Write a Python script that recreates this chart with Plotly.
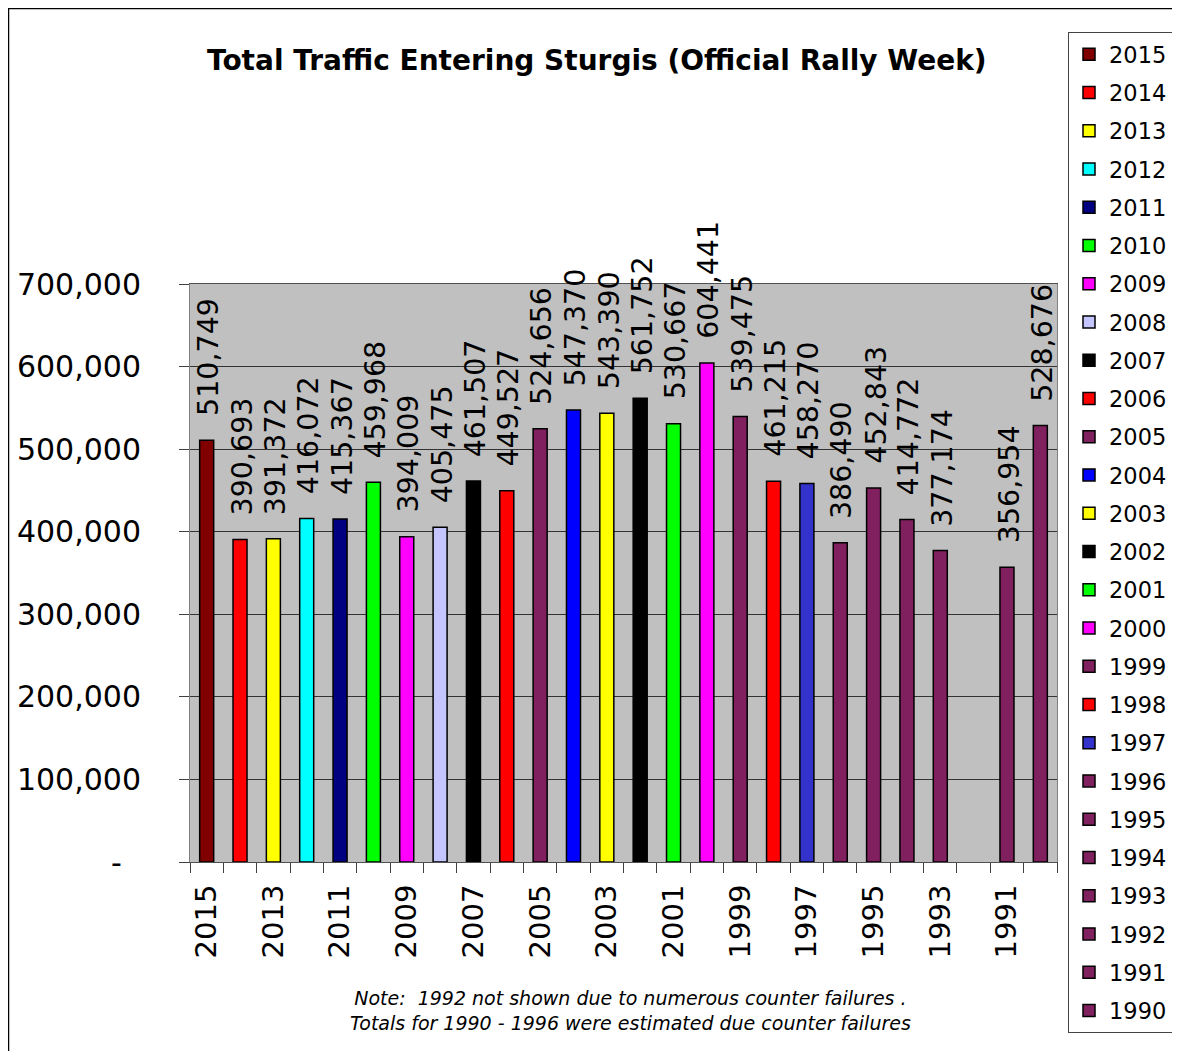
import plotly.graph_objects as go

years = ["2015", "2014", "2013", "2012", "2011", "2010", "2009", "2008", "2007",
         "2006", "2005", "2004", "2003", "2002", "2001", "2000", "1999", "1998",
         "1997", "1996", "1995", "1994", "1993", "1992", "1991", "1990"]
values = [510749, 390693, 391372, 416072, 415367, 459968, 394009, 405475, 461507,
          449527, 524656, 547370, 543390, 561752, 530667, 604441, 539475, 461215,
          458270, 386490, 452843, 414772, 377174, None, 356954, 528676]
colors = ["#800000", "#FF0000", "#FFFF00", "#00FFFF", "#000080", "#00FF00", "#FF00FF",
          "#C4C4FF", "#000000", "#FF0000", "#80205F", "#0000FF", "#FFFF00", "#000000",
          "#00FF00", "#FF00FF", "#80205F", "#FF0000", "#3333CC", "#80205F", "#80205F",
          "#80205F", "#80205F", "#80205F", "#80205F", "#80205F"]
y_ticks = [0, 100000, 200000, 300000, 400000, 500000, 600000, 700000]
y_ticktext = ["-\u00a0\u00a0", "100,000", "200,000", "300,000", "400,000", "500,000", "600,000", "700,000"]
x_ticktext = [y if i % 2 == 0 else "" for i, y in enumerate(years)]

FONT = "Comic Sans MS, DejaVu Sans, sans-serif"
OFF = 8  # page body margin
W, H = 1164, 1043
# plot area in screen pixels
SL, SR, ST, SB = 190, 1057, 284, 862
L, R, T, B = SL - OFF, SR - OFF, ST - OFF, SB - OFF

def px_x(p):
    return (p - OFF - L) / (R - L)

def px_y(p):
    return (B - (p - OFF)) / (B - T)

fig = go.Figure()
for yr, v, c in zip(years, values, colors):
    fig.add_trace(go.Bar(
        x=[yr], y=[v], name=yr, legendgroup=yr,
        marker=dict(color=c, line=dict(color="black", width=1.5)),
        width=0.42, hoverinfo="x+y",
    ))

annotations = []
for i, (yr, v) in enumerate(zip(years, values)):
    if v is None:
        continue
    annotations.append(dict(
        x=i, y=v, xref="x", yref="y", text=f"{v:,}", showarrow=False,
        textangle=-90, yanchor="bottom", xanchor="center", yshift=22, xshift=2,
        font=dict(family=FONT, size=28.5, color="black"),
    ))

annotations.append(dict(
    x=px_x(597), y=px_y(60), xref="paper", yref="paper",
    text="<b>Total Traffic Entering Sturgis (Official Rally Week)</b>",
    showarrow=False, xanchor="center", yanchor="middle",
    font=dict(family=FONT, size=28, color="black"),
))
annotations.append(dict(
    x=px_x(630), y=px_y(1010), xref="paper", yref="paper",
    text="<i>Note:  1992 not shown due to numerous counter failures .</i><br>"
         "<i>Totals for 1990 - 1996 were estimated due counter failures</i>",
    showarrow=False, xanchor="center", yanchor="middle", align="center",
    font=dict(family=FONT, size=19, color="black"),
))

fig.update_layout(
    width=W, height=H,
    margin=dict(l=L, r=W - R, t=T, b=H - B, pad=0, autoexpand=False),
    paper_bgcolor="white", plot_bgcolor="#C0C0C0",
    barmode="overlay",
    font=dict(family=FONT, color="black"),
    annotations=annotations,
    legend=dict(
        x=px_x(1068), y=px_y(32), xanchor="left", yanchor="top",
        bordercolor="#444444", borderwidth=1, bgcolor="white",
        font=dict(family=FONT, size=22.5, color="black"),
        traceorder="grouped", tracegroupgap=6, maxheight=1040,
    ),
    shapes=[dict(type="rect", xref="paper", yref="paper",
                 x0=px_x(8.5), x1=px_x(1200), y0=px_y(1080), y1=px_y(8.5),
                 line=dict(color="black", width=1.5), fillcolor="rgba(0,0,0,0)", layer="below")],
)

fig.update_xaxes(
    type="category", categoryorder="array", categoryarray=years,
    range=[-0.5, len(years) - 0.5],
    tickmode="array", tickvals=years, ticktext=x_ticktext,
    tickangle=-90, tickson="boundaries", ticks="outside", ticklen=10,
    tickcolor="#404040", tickwidth=1,
    showline=True, linecolor="#505050", linewidth=1, mirror=True,
    showgrid=False, tickfont=dict(family=FONT, size=29, color="black"),
    ticklabelstandoff=10,
)
fig.update_yaxes(
    range=[0, 700000], tickmode="array", tickvals=y_ticks, ticktext=y_ticktext,
    ticks="outside", ticklen=10, tickcolor="#404040",
    showgrid=True, gridcolor="#333333", gridwidth=1,
    showline=True, linecolor="#808080", linewidth=1, mirror=True,
    zeroline=False, tickfont=dict(family=FONT, size=30, color="black"),
    ticklabelstandoff=32,
)

fig.write_html("out.html")
